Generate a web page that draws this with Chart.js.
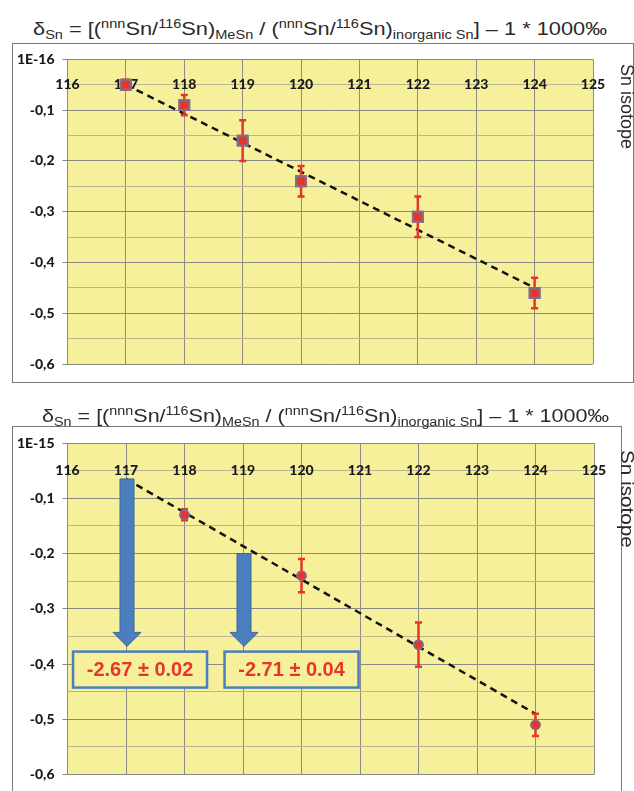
<!DOCTYPE html>
<html><head><meta charset="utf-8">
<script src="https://cdn.jsdelivr.net/npm/chart.js@4"></script>
<style>
html,body{margin:0;padding:0;background:#fff;}
body{width:634px;height:791px;overflow:hidden;position:relative;font-family:"Liberation Sans",Arial,sans-serif;}
.title{position:absolute;white-space:nowrap;font-size:18px;line-height:18px;color:#2a2a2a;transform-origin:0 0;}
.title sub{font-size:12px;vertical-align:baseline;position:relative;top:4px;}
.title sup{font-size:12px;vertical-align:baseline;position:relative;top:-7px;}
.box{position:absolute;border:1.5px solid #7a7a7a;box-sizing:border-box;background:#fff;}
.side{position:absolute;font-size:18px;line-height:14px;color:#2a2a2a;writing-mode:vertical-rl;white-space:nowrap;transform-origin:0 0;}
canvas{position:absolute;}
</style>
</head><body>
<div class="box" style="left:12px;top:43px;width:622px;height:340px;"></div>
<div class="box" style="left:12px;top:426px;width:610px;height:380px;"></div>
<canvas id="c1" width="621" height="339" style="left:12px;top:43px;"></canvas>
<canvas id="c2" width="609" height="365" style="left:12px;top:426px;"></canvas>
<div class="title" id="t1" style="left:33px;top:20px;">δ<sub>Sn</sub> = [(<sup>nnn</sup>Sn/<sup>116</sup>Sn)<sub>MeSn</sub> / (<sup>nnn</sup>Sn/<sup>116</sup>Sn)<sub>inorganic Sn</sub>] – 1 * 1000‰</div>
<div class="title" id="t2" style="left:42px;top:407px;">δ<sub>Sn</sub> = [(<sup>nnn</sup>Sn/<sup>116</sup>Sn)<sub>MeSn</sub> / (<sup>nnn</sup>Sn/<sup>116</sup>Sn)<sub>inorganic Sn</sub>] – 1 * 1000‰</div>
<div class="side" style="left:620px;top:64px;">Sn isotope</div>
<div class="side" id="s2" style="left:620px;top:450px;">Sn isotope</div>
<script>
// ---------- data ----------
const xTickLabels = ['116','117','118','119','120','121','122','123','124','125'];
const yTickLabelsTop = ['1E-16','-0,1','-0,2','-0,3','-0,4','-0,5','-0,6'];
const yTickLabelsBottom = ['1E-15','-0,1','-0,2','-0,3','-0,4','-0,5','-0,6'];

const topIsotopes = [117,118,119,120,122,124];
const topDelta    = [-0.05,-0.09,-0.16,-0.24,-0.31,-0.46];
const topError    = [0.01,0.02,0.04,0.03,0.04,0.03];
const topTrendX   = [117,124];
const topTrendY   = [-0.05,-0.45];

const botIsotopes = [118,120,122,124];
const botDelta    = [-0.13,-0.24,-0.365,-0.51];
const botError    = [0.01,0.03,0.04,0.02];
const botTrendX   = [117,124];
const botTrendY   = [-0.065,-0.49];

const arrowX    = [117,119];
const arrowFrom = [-0.065,-0.2];
const arrowTo   = [-0.368,-0.368];
const boxLabels = ['-2.67 ± 0.02','-2.71 ± 0.04'];
const boxCenterX = [117.24,119.83];
const boxCenterY = [-0.41,-0.41];

// ---------- styles ----------
const YELLOW = '#F6F09A';
const RED = '#E8352C';
const BLUE = '#4A7EBF';
const TICKFONT = {family:'Lato', weight:'900', size:14};

function isMajor(v){ return Math.abs(Math.round(v*100)) % 10 === 0; }

const bgPlugin = {
  id:'bg',
  beforeDraw(chart){
    const a = chart.chartArea, c = chart.ctx;
    c.save(); c.fillStyle = YELLOW; c.fillRect(a.left, a.top, a.right-a.left, a.bottom-a.top); c.restore();
  }
};
const errPlugin = {
  id:'err',
  afterDatasetsDraw(chart, args, opts){
    const xs = chart.scales.x, ys = chart.scales.y, c = chart.ctx;
    const meta = chart.getDatasetMeta(0);
    c.save();
    c.strokeStyle = RED; c.lineWidth = 2.5;
    opts.x.forEach((xv,i)=>{
      const px = xs.getPixelForValue(xv);
      const y1 = ys.getPixelForValue(opts.y[i]+opts.e[i]);
      const y2 = ys.getPixelForValue(opts.y[i]-opts.e[i]);
      c.beginPath();
      c.moveTo(px,y1); c.lineTo(px,y2);
      c.moveTo(px-3.5,y1); c.lineTo(px+3.5,y1);
      c.moveTo(px-3.5,y2); c.lineTo(px+3.5,y2);
      c.stroke();
    });
    c.restore();
    meta.data.forEach(p=>p.draw(c, chart.chartArea));
  }
};
const annotPlugin = {
  id:'annot',
  afterDatasetsDraw(chart, args, opts){
    if(!opts.enabled) return;
    const xs = chart.scales.x, ys = chart.scales.y, c = chart.ctx;
    c.save();
    arrowX.forEach((xv,i)=>{
      const px = xs.getPixelForValue(xv)+1;
      const top = ys.getPixelForValue(arrowFrom[i]);
      const tip = ys.getPixelForValue(arrowTo[i]);
      const sw = 7, hw = 14, hh = 14;
      c.beginPath();
      c.moveTo(px-sw, top); c.lineTo(px+sw, top); c.lineTo(px+sw, tip-hh);
      c.lineTo(px+hw, tip-hh); c.lineTo(px, tip); c.lineTo(px-hw, tip-hh);
      c.lineTo(px-sw, tip-hh); c.closePath();
      c.fillStyle = BLUE; c.fill();
      c.strokeStyle = '#3B6699'; c.lineWidth = 1; c.stroke();
    });
    boxLabels.forEach((t,i)=>{
      const cx = xs.getPixelForValue(boxCenterX[i]);
      const cy = ys.getPixelForValue(boxCenterY[i]);
      const w = 134, h = 36;
      c.fillStyle = YELLOW;
      c.fillRect(cx-w/2, cy-h/2, w, h);
      c.strokeStyle = BLUE; c.lineWidth = 2.5;
      c.strokeRect(cx-w/2, cy-h/2, w, h);
      c.fillStyle = RED;
      c.font = 'bold 20px "Liberation Sans", Arial, sans-serif';
      c.textAlign = 'center'; c.textBaseline = 'middle';
      c.fillText(t, cx, cy+1);
    });
    c.restore();
  }
};

function makeChart(id, cfg){
  const pts = cfg.xs.map((x,i)=>({x:x, y:cfg.ys[i]}));
  const trend = cfg.tx.map((x,i)=>({x:x, y:cfg.ty[i]}));
  return new Chart(document.getElementById(id), {
    type:'scatter',
    data:{datasets:[
      {data:pts, pointStyle:cfg.pointStyle, pointRadius:cfg.pointRadius, backgroundColor:RED,
       borderColor:'#7D6F8E', borderWidth:cfg.pointBorder, showLine:false, order:1},
      {type:'line', data:trend, borderColor:'#111', borderWidth:2.5, borderDash:[7,5],
       pointRadius:0, fill:false, order:2}
    ]},
    options:{
      responsive:false, animation:false, devicePixelRatio:1,
      layout:{padding:cfg.padding},
      plugins:{legend:{display:false}, tooltip:{enabled:false}, title:{display:false},
        err:{x:cfg.xs, y:cfg.ys, e:cfg.es}, annot:{enabled:cfg.annot}},
      scales:{
        x:{type:'linear', min:116, max:125, position:{y:-0.05},
           ticks:{stepSize:1, padding:cfg.xPad, color:'#1a1a1a', font:TICKFONT,
                  callback:(v)=>xTickLabels[Math.round(v)-116]},
           grid:{color:'#8d8d86', lineWidth:1, drawTicks:false},
           border:{display:false}},
        y:{type:'linear', min:-0.6, max:0,
           afterFit:(s)=>{s.width = 55.5;},
           ticks:{stepSize:0.05, autoSkip:false, padding:8, color:'#1a1a1a', font:TICKFONT,
                  callback:(v)=> isMajor(v) ? cfg.yLabels[Math.round(-v*10)] : ''},
           grid:{color:(ctx)=> isMajor(ctx.tick.value) ? '#8a8a84' : '#b9b68f',
                 lineWidth:1, tickLength:5,
                 tickColor:(ctx)=> isMajor(ctx.tick.value) ? '#8a8a84' : 'rgba(0,0,0,0)'},
           border:{display:false}}
      }
    },
    plugins:[bgPlugin, errPlugin, annotPlugin]
  });
}

makeChart('c1', {xs:topIsotopes, ys:topDelta, es:topError, tx:topTrendX, ty:topTrendY,
  pointStyle:'rect', pointRadius:7, pointBorder:2, yLabels:yTickLabelsTop,
  padding:{left:0, top:15, right:40, bottom:18}, xPad:-9, annot:false});
makeChart('c2', {xs:botIsotopes, ys:botDelta, es:botError, tx:botTrendX, ty:botTrendY,
  pointStyle:'circle', pointRadius:4.5, pointBorder:1.5, yLabels:yTickLabelsBottom,
  padding:{left:0, top:17, right:27, bottom:11}, xPad:-9, annot:true});

function fit(id, w){ const el=document.getElementById(id); const r=el.getBoundingClientRect(); el.style.transform='scaleX('+(w/r.width)+')'; }
fit('t1', 574); fit('t2', 567);
document.getElementById('s2').style.transform='scaleY(1.15)';
</script>
</body></html>
